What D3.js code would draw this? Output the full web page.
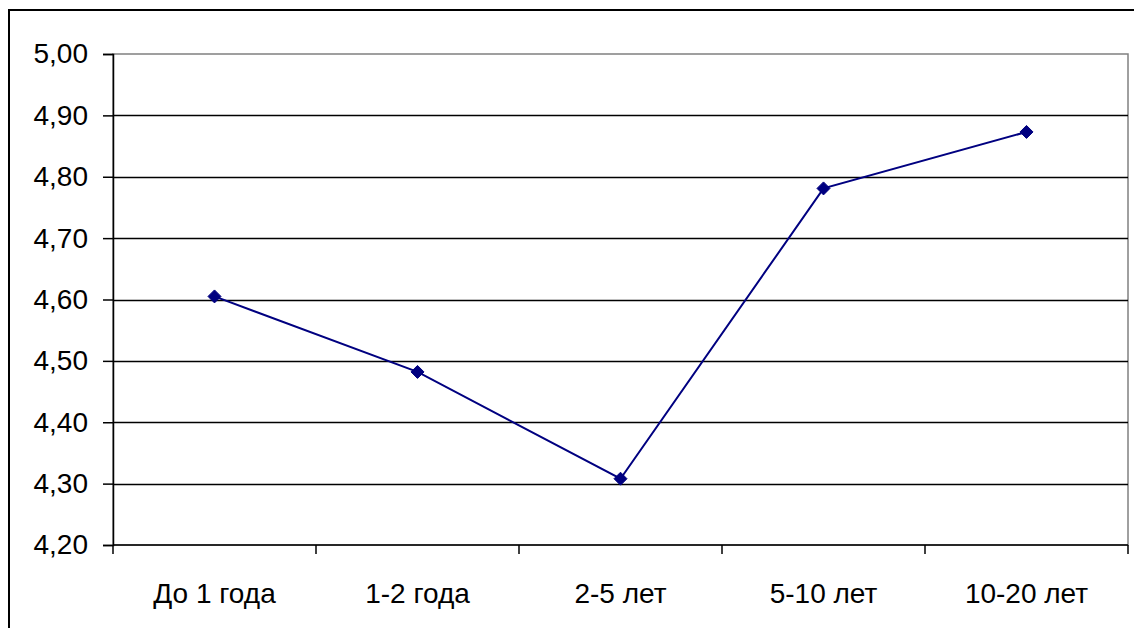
<!DOCTYPE html>
<html>
<head>
<meta charset="utf-8">
<script src="https://cdn.jsdelivr.net/npm/d3@7"></script>
<style>
  html, body { margin: 0; padding: 0; background: #fff; }
  svg { display: block; }
  text { font-family: Arial, "Liberation Sans", sans-serif; }
</style>
</head>
<body>
<svg id="chart" width="1134" height="628"></svg>
<script>
// Average score by length of service
const categories = ["До 1 года", "1-2 года", "2-5 лет", "5-10 лет", "10-20 лет"];
const values = [4.605, 4.482, 4.308, 4.781, 4.873];
const yTicks = [4.20, 4.30, 4.40, 4.50, 4.60, 4.70, 4.80, 4.90, 5.00];

const svg = d3.select("#chart");
const W = 1134, H = 628;
const plot = { left: 113, right: 1128, top: 54, bottom: 545 };
const FONT = 28;

// Outer chart frame (right and bottom edges run past the canvas)
svg.append("rect")
  .attr("x", 9).attr("y", 10)
  .attr("width", W + 10).attr("height", H + 10)
  .attr("fill", "#fff").attr("stroke", "#000").attr("stroke-width", 2);

const x = d3.scaleBand().domain(categories).range([plot.left, plot.right]).padding(0);
const y = d3.scaleLinear().domain([4.2, 5.0]).range([plot.bottom, plot.top]);

// Plot area border (gray)
svg.append("rect")
  .attr("x", plot.left).attr("y", plot.top)
  .attr("width", plot.right - plot.left).attr("height", plot.bottom - plot.top)
  .attr("fill", "none").attr("stroke", "#808080").attr("stroke-width", 1.5);

// Horizontal gridlines
svg.append("g")
  .selectAll("line")
  .data(yTicks.filter(t => t > 4.2 && t < 5.0))
  .join("line")
  .attr("x1", plot.left).attr("x2", plot.right)
  .attr("y1", d => Math.round(y(d)) + 0.5).attr("y2", d => Math.round(y(d)) + 0.5)
  .attr("stroke", "#000").attr("stroke-width", 1.3);

const fmt = d => d.toFixed(2).replace(".", ",");

// Y axis
const yAxis = svg.append("g")
  .attr("transform", `translate(${plot.left},0)`)
  .call(d3.axisLeft(y).tickValues(yTicks).tickFormat(fmt).tickSize(10).tickPadding(15));
yAxis.select(".domain").attr("stroke", "#000").attr("stroke-width", 1.5);
yAxis.selectAll(".tick line").attr("stroke", "#000").attr("stroke-width", 1.5);
yAxis.selectAll(".tick text")
  .attr("font-size", FONT).attr("fill", "#000")
  .attr("font-family", "Arial, 'Liberation Sans', sans-serif");

// X axis with ticks at category boundaries
const xAxisG = svg.append("g").attr("transform", `translate(0,${plot.bottom})`);
xAxisG.append("line")
  .attr("x1", plot.left).attr("x2", plot.right)
  .attr("y1", 0).attr("y2", 0)
  .attr("stroke", "#000").attr("stroke-width", 1.5);
const bounds = categories.map(c => x(c)).concat([x.range()[1]]);
xAxisG.selectAll("line.tk")
  .data(bounds)
  .join("line")
  .attr("class", "tk")
  .attr("x1", d => d).attr("x2", d => d)
  .attr("y1", 0).attr("y2", 9)
  .attr("stroke", "#000").attr("stroke-width", 1.5);
xAxisG.selectAll("text")
  .data(categories)
  .join("text")
  .attr("x", d => x(d) + x.bandwidth() / 2)
  .attr("y", 58)
  .attr("text-anchor", "middle")
  .attr("font-size", FONT)
  .attr("fill", "#000")
  .text(d => d);

// Series line
const line = d3.line()
  .x((d, i) => x(categories[i]) + x.bandwidth() / 2)
  .y(d => y(d));
svg.append("path")
  .datum(values)
  .attr("d", line)
  .attr("fill", "none")
  .attr("stroke", "#000080")
  .attr("stroke-width", 2);

// Diamond markers
svg.append("g")
  .selectAll("path")
  .data(values)
  .join("path")
  .attr("transform", (d, i) => `translate(${x(categories[i]) + x.bandwidth() / 2},${y(d)})`)
  .attr("d", "M0,-6.5L6.5,0L0,6.5L-6.5,0Z")
  .attr("fill", "#000080")
  .attr("stroke", "#000080")
  .attr("stroke-width", 1);
</script>
</body>
</html>
